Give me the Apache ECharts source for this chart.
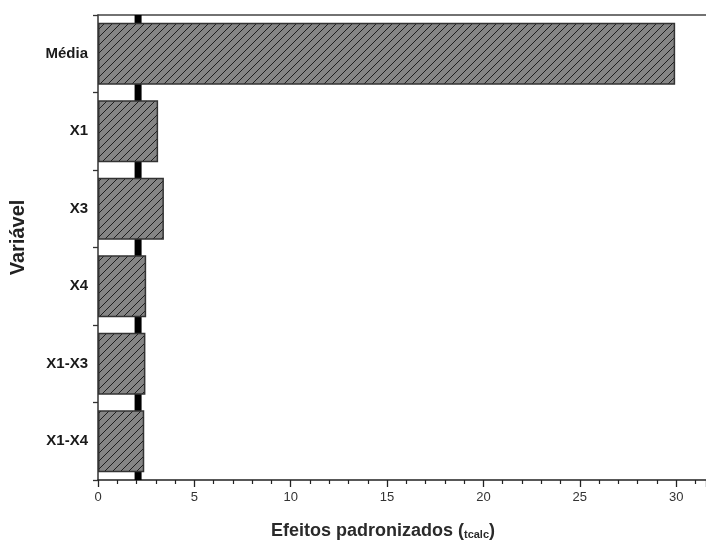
<!DOCTYPE html>
<html><head><meta charset="utf-8">
<script src="https://cdn.jsdelivr.net/npm/echarts@6/dist/echarts.min.js"></script>
<style>html,body{margin:0;padding:0;background:#fff}#c{width:706px;height:541px}</style>
</head><body><div id="c"></div>
<script>
const categories = ['Média', 'X1', 'X3', 'X4', 'X1-X3', 'X1-X4'];
const effects = [29.95, 3.12, 3.42, 2.5, 2.46, 2.4];
const tCritical = 2.08;
const xTicks = [0, 5, 10, 15, 20, 25, 30];

function hatch() {
  const s = 8;
  const c = document.createElement('canvas');
  c.width = s; c.height = s;
  const g = c.getContext('2d');
  g.fillStyle = '#858585';
  g.fillRect(0, 0, s, s);
  g.strokeStyle = '#1e1e1e';
  g.lineWidth = 1;
  g.beginPath();
  g.moveTo(-1, s + 1); g.lineTo(s + 1, -1);
  g.moveTo(-1, 1); g.lineTo(1, -1);
  g.moveTo(s - 1, s + 1); g.lineTo(s + 1, s - 1);
  g.stroke();
  return c;
}

const chart = echarts.init(document.getElementById('c'), null, {renderer: 'canvas'});
const font = 'Liberation Sans, Arial, sans-serif';
chart.setOption({
  animation: false,
  grid: {left: 98, right: 0, top: 15, bottom: 61, outerBoundsMode: 'none', containLabel: false},
  xAxis: [{
    type: 'value', min: 0, max: 31.55, interval: 5, position: 'bottom',
    axisLine: {show: true, onZero: false, lineStyle: {color: '#222', width: 1.5}},
    axisTick: {show: true, length: 7, lineStyle: {color: '#222', width: 1.3}},
    minorTick: {show: true, splitNumber: 5, length: 4, lineStyle: {color: '#222', width: 1.2}},
    splitLine: {show: false},
    axisLabel: {color: '#333', fontFamily: font, fontSize: 13, margin: 11,
      customValues: xTicks},
    name: '{a|Efeitos padronizados (}{b|tcalc}{a|)}',
    nameLocation: 'middle', nameGap: 42,
    nameTextStyle: {padding: [0, 38, 0, 0], rich: {
      a: {fontFamily: font, fontWeight: 'bold', fontSize: 18, color: '#2a2a2a'},
      b: {fontFamily: font, fontWeight: 'bold', fontSize: 11, color: '#2a2a2a', verticalAlign: 'bottom', padding: [7, 0, 0, 0]}
    }}
  }, {
    type: 'value', min: 0, max: 31.55, position: 'top',
    axisLine: {show: true, onZero: false, lineStyle: {color: '#444', width: 1.5}},
    axisTick: {show: false}, axisLabel: {show: false}, splitLine: {show: false}
  }],
  yAxis: [{
    type: 'category', data: categories, inverse: true,
    axisLine: {show: true, lineStyle: {color: '#333', width: 1.5}},
    axisTick: {show: true, length: 5, inside: false, lineStyle: {color: '#333', width: 1.3}},
    axisLabel: {color: '#1a1a1a', fontFamily: font, fontWeight: 'bold', fontSize: 15, margin: 10},
    name: 'Variável', nameLocation: 'middle', nameGap: 70,
    nameTextStyle: {fontFamily: font, fontWeight: 'bold', fontSize: 20, color: '#222', padding: [0, 0, 0, 20]}
  }, {
    type: 'value', min: 0, max: 1, show: false
  }],
  series: [{
    type: 'line', yAxisIndex: 1, z: 1, symbol: 'none', silent: true,
    lineStyle: {color: '#000', width: 7},
    data: [[tCritical, 0], [tCritical, 1]]
  }, {
    type: 'bar', data: effects, z: 3, barCategoryGap: '20%',
    itemStyle: {color: {image: hatch(), repeat: 'repeat'}, borderColor: '#333', borderWidth: 1.5}
  }]
});
</script></body></html>
